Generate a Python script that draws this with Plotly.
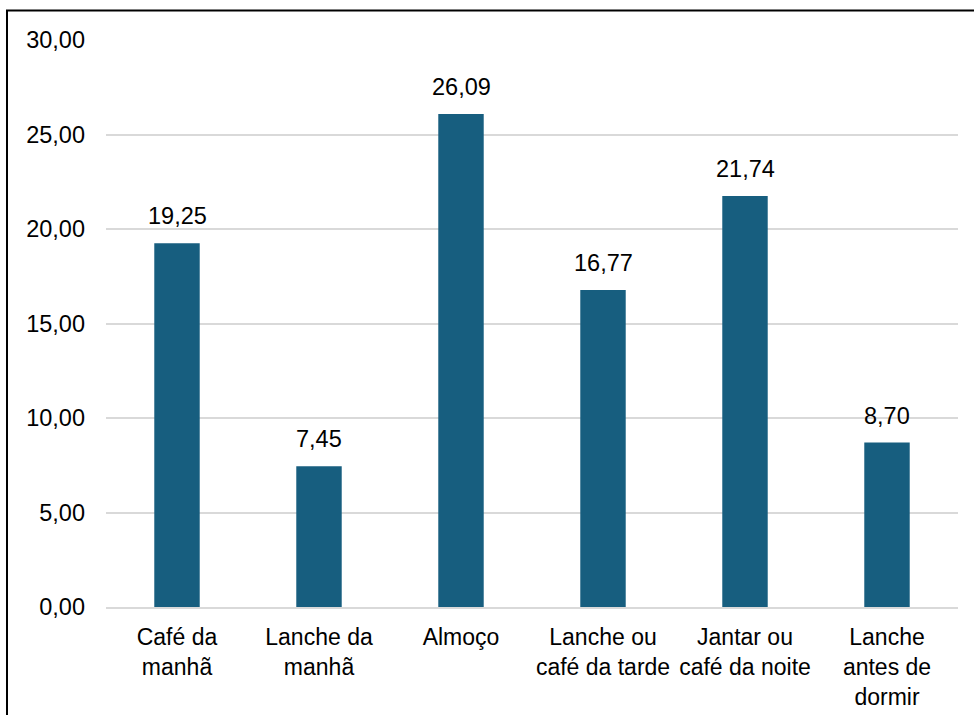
import plotly.graph_objects as go

categories = ["Café da<br>manhã", "Lanche da<br>manhã", "Almoço", "Lanche ou<br>café da tarde",
              "Jantar ou<br>café da noite", "Lanche<br>antes de<br>dormir"]
values = [19.25, 7.45, 26.09, 16.77, 21.74, 8.70]
tick_vals = [0, 5, 10, 15, 20, 25, 30]
tick_text = ["0,00", "5,00", "10,00", "15,00", "20,00", "25,00", "30,00"]

FONT = "Liberation Sans, Arial, sans-serif"
BAR = "#175E7F"

fig = go.Figure()
fig.add_trace(go.Bar(x=categories, y=values, marker=dict(color=BAR, line=dict(width=0)),
                     width=0.32, hoverinfo="skip"))

for c, v in zip(categories, values):
    fig.add_annotation(x=c, y=v, text=f"{v:.2f}".replace(".", ","), showarrow=False,
                       yanchor="bottom", yshift=12, font=dict(family=FONT, size=23.5, color="#000"))

fig.add_shape(type="rect", xref="paper", yref="paper", x0=-0.1162, x1=1.05, y0=-0.3, y1=1.052,
              line=dict(color="#000", width=2), fillcolor="rgba(0,0,0,0)", layer="above")

fig.update_layout(
    width=974, height=715,
    margin=dict(l=106, r=16, t=40, b=108, autoexpand=False),
    paper_bgcolor="white", plot_bgcolor="white",
    showlegend=False,
    font=dict(family=FONT, size=23, color="#000"),
    xaxis=dict(showgrid=False, showline=True, linecolor="#D9D9D9", linewidth=1.5,
               ticks="", ticklabelstandoff=9, tickfont=dict(size=23), automargin=False),
    yaxis=dict(range=[0, 30], tickvals=tick_vals, ticktext=tick_text, showgrid=True,
               gridcolor="#D9D9D9", gridwidth=1.5, zeroline=False, showline=False,
               ticks="", ticklabelstandoff=20, tickfont=dict(size=23.5), automargin=False),
)

fig.write_html("out.html")
